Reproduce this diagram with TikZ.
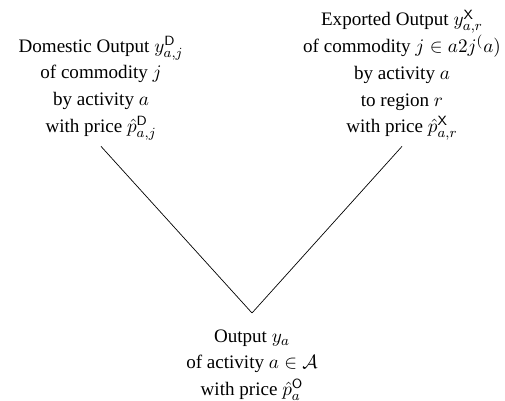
\documentclass[tikz,border=0pt]{standalone}
\usepackage{amsmath}
\usepackage{fontspec}
\setmainfont{Liberation Serif}
\begin{document}
\begin{tikzpicture}[x=0.5714pt, y=-0.5714pt,
  flow/.style={align=center, font=\fontsize{10.9}{15.25}\selectfont, inner sep=3.33pt},
  link/.style={draw=black, line width=0.4pt}]
  \useasboundingbox (0,0) rectangle (505,401);
  % the two kinds of output of an activity
  \node[flow] (dom) at (101,88)
    {Domestic Output $y^{\mathsf{D}}_{a,j}$\\
     of commodity $j$\\
     by activity $a$\\
     with price $\hat{p}^{\mathsf{D}}_{a,j}$};
  \node[flow] (exp) at (402,75)
    {Exported Output $y^{\mathsf{X}}_{a,r}$\\
     of commodity $j \in a2j^(a)$\\
     by activity $a$\\
     to region $r$\\
     with price $\hat{p}^{\mathsf{X}}_{a,r}$};
  % total output of the activity
  \node[flow, inner ysep=9.3pt] (out) at (252,365)
    {Output $y_a$\\
     of activity $a \in \mathcal{A}$\\
     with price $\hat{p}^{\mathsf{O}}_a$};
  \draw[link] (dom.south) -- (out.north);
  \draw[link] (exp.south) -- (out.north);
\end{tikzpicture}
\end{document}
